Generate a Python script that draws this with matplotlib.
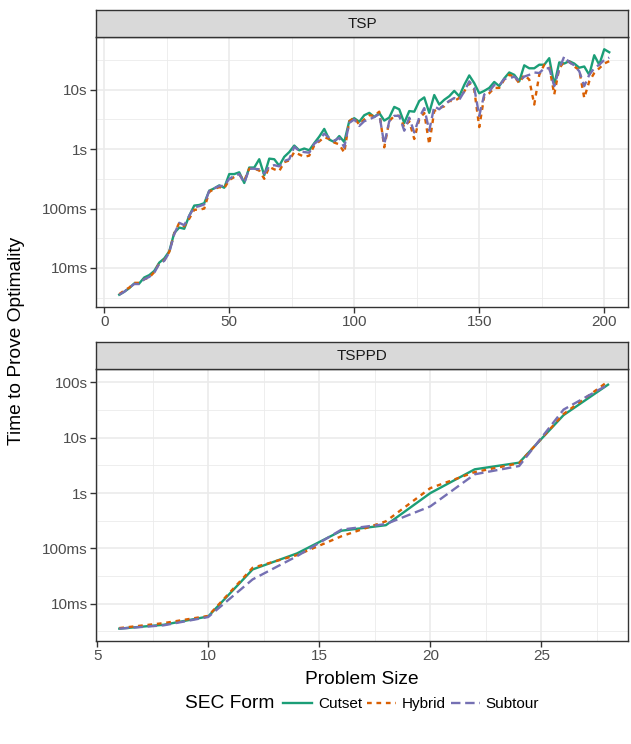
import numpy as np
import matplotlib
matplotlib.use('Agg')
import matplotlib.pyplot as plt
from matplotlib.lines import Line2D
from matplotlib.ticker import FixedLocator, FixedFormatter, NullFormatter

plt.rcParams['font.family'] = ['Liberation Sans', 'DejaVu Sans']

# data: log10 of time in seconds
tsp_size = np.arange(6, 203, 2)
tsp_cutset = [
    -2.45, -2.40, -2.34, -2.26, -2.26, -2.16, -2.12, -2.05, -1.91, -1.84,
    -1.72, -1.41, -1.32, -1.34, -1.12, -0.95, -0.94, -0.91, -0.70, -0.66,
    -0.61, -0.65, -0.42, -0.42, -0.39, -0.57, -0.31, -0.31, -0.17, -0.44,
    -0.16, -0.17, -0.28, -0.13, -0.05, 0.06, -0.02, 0.01, -0.02, 0.10,
    0.21, 0.34, 0.16, 0.12, 0.22, 0.12, 0.47, 0.52, 0.46, 0.57,
    0.61, 0.54, 0.61, 0.48, 0.53, 0.71, 0.67, 0.44, 0.64, 0.63,
    0.81, 0.87, 0.61, 0.91, 0.75, 0.83, 0.89, 0.98, 0.89, 1.08,
    1.24, 1.11, 0.94, 0.98, 1.03, 1.13, 1.06, 1.19, 1.29, 1.25,
    1.14, 1.41, 1.36, 1.36, 1.42, 1.42, 1.53, 1.08, 1.46, 1.44,
    1.48, 1.44, 1.37, 1.39, 1.25, 1.58, 1.42, 1.68, 1.63]
tsp_hybrid = [
    -2.44, -2.38, -2.33, -2.25, -2.25, -2.19, -2.16, -2.07, -1.92, -1.87,
    -1.73, -1.42, -1.24, -1.30, -1.17, -1.02, -1.02, -1.00, -0.72, -0.67,
    -0.64, -0.66, -0.52, -0.47, -0.43, -0.53, -0.33, -0.33, -0.36, -0.50,
    -0.30, -0.34, -0.37, -0.22, -0.19, -0.05, -0.09, -0.13, -0.11, 0.06,
    0.13, 0.20, 0.17, 0.11, 0.08, -0.06, 0.47, 0.53, 0.41, 0.50,
    0.57, 0.56, 0.63, 0.03, 0.47, 0.56, 0.56, 0.37, 0.47, 0.17,
    0.50, 0.61, 0.08, 0.64, 0.69, 0.72, 0.81, 0.81, 0.86, 0.97,
    1.11, 1.00, 0.37, 0.89, 0.94, 1.03, 1.03, 1.17, 1.25, 1.22,
    1.11, 1.25, 1.17, 0.75, 1.25, 1.42, 1.39, 0.92, 1.36, 1.47,
    1.47, 1.39, 1.33, 0.86, 1.14, 1.28, 1.36, 1.44, 1.48]
tsp_subtour = [
    -2.45, -2.40, -2.33, -2.27, -2.27, -2.19, -2.15, -2.08, -1.93, -1.88,
    -1.74, -1.43, -1.24, -1.28, -1.12, -0.98, -0.96, -0.93, -0.70, -0.66,
    -0.62, -0.62, -0.50, -0.45, -0.42, -0.57, -0.33, -0.33, -0.34, -0.41,
    -0.29, -0.27, -0.29, -0.20, -0.17, 0.04, -0.03, -0.05, -0.06, 0.09,
    0.15, 0.26, 0.19, 0.14, 0.19, 0.03, 0.44, 0.50, 0.39, 0.47,
    0.50, 0.54, 0.59, 0.08, 0.47, 0.56, 0.56, 0.31, 0.53, 0.28,
    0.53, 0.69, 0.31, 0.72, 0.67, 0.75, 0.81, 0.86, 0.83, 0.97,
    1.14, 1.03, 0.56, 0.92, 0.97, 1.08, 1.07, 1.18, 1.19, 1.22,
    1.14, 1.22, 1.25, 1.29, 1.28, 1.36, 1.36, 1.06, 1.35, 1.56,
    1.46, 1.41, 1.31, 1.06, 1.25, 1.36, 1.42, 1.50, 1.54]

tsppd_size = [6, 8, 10, 12, 14, 16, 18, 20, 22, 24, 26, 28]
tsppd_cutset = [-2.45, -2.38, -2.23, -1.38, -1.09, -0.68, -0.58, 0.00, 0.43, 0.55, 1.41, 1.96]
tsppd_hybrid = [-2.44, -2.35, -2.22, -1.35, -1.12, -0.78, -0.51, 0.09, 0.38, 0.54, 1.43, 2.02]
tsppd_subtour = [-2.45, -2.39, -2.24, -1.56, -1.14, -0.66, -0.56, -0.24, 0.34, 0.49, 1.51, 1.96]

forms = ['Cutset', 'Hybrid', 'Subtour']
colors = ['#1B9E77', '#D95F02', '#7570B3']
dashes = [None, (2, 2), (4, 2)]

y_breaks = [0.01, 0.1, 1, 10, 100]
y_labels = ['10ms', '100ms', '1s', '10s', '100s']
y_minor = [10 ** -2.5, 10 ** -1.5, 10 ** -0.5, 10 ** 0.5, 10 ** 1.5]

W, H = 631, 744
fig = plt.figure(figsize=(W / 100, H / 100), dpi=100)

def box(l, t, r, b):
    return [l / W, 1 - b / H, (r - l) / W, (b - t) / H]

def panel(ax_rect, strip_rect, title, x, series, x_major, x_minor, xlim):
    ax = fig.add_axes(box(*ax_rect))
    st = fig.add_axes(box(*strip_rect))
    st.set_facecolor('#D9D9D9')
    st.set_xticks([]); st.set_yticks([])
    for s in st.spines.values():
        s.set_color('#333333'); s.set_linewidth(1.0)
    st.text(0.5, 0.5, title, ha='center', va='center', fontsize=11,
            color='#1A1A1A', transform=st.transAxes)

    for vals, c, d in zip(series, colors, dashes):
        ln, = ax.plot(x, 10 ** np.array(vals), color=c, lw=1.7)
        if d:
            ln.set_dashes(d)
    ax.set_yscale('log')
    allv = np.concatenate([np.array(v) for v in series])
    lo, hi = allv.min(), allv.max()
    pad = 0.05 * (hi - lo)
    ax.set_ylim(10 ** (lo - pad), 10 ** (hi + pad))
    ax.set_xlim(*xlim)

    ax.yaxis.set_major_locator(FixedLocator(y_breaks))
    ax.yaxis.set_major_formatter(FixedFormatter(y_labels))
    ax.yaxis.set_minor_locator(FixedLocator(y_minor))
    ax.yaxis.set_minor_formatter(NullFormatter())
    ax.set_xticks(x_major)
    ax.set_xticks(x_minor, minor=True)
    ax.grid(which='major', color='#EBEBEB', lw=1.2)
    ax.grid(which='minor', color='#EBEBEB', lw=0.6)
    ax.set_axisbelow(True)
    ax.tick_params(which='major', length=4, width=1.0, color='#333333',
                   labelsize=11, labelcolor='#4D4D4D', pad=2)
    ax.tick_params(which='minor', length=0)
    for s in ax.spines.values():
        s.set_color('#333333'); s.set_linewidth(1.0)
    return ax

panel((96, 37, 628, 307), (96, 10, 628, 37), 'TSP', tsp_size,
      [tsp_cutset, tsp_hybrid, tsp_subtour],
      [0, 50, 100, 150, 200], [25, 75, 125, 175], (-3.3, 209.5))
panel((96, 369, 628, 641), (96, 342, 628, 369), 'TSPPD', tsppd_size,
      [tsppd_cutset, tsppd_hybrid, tsppd_subtour],
      [5, 10, 15, 20, 25], [7.5, 12.5, 17.5, 22.5, 27.5], (4.95, 28.9))

fig.text(362 / W, 1 - 679 / H, 'Problem Size', ha='center', va='center', fontsize=13.75)
fig.text(17 / W, 1 - 341 / H, 'Time to Prove Optimality', ha='center', va='center',
         rotation=90, fontsize=13.75)

# legend at the bottom, title on the left
fig.text(185 / W, 1 - 704 / H, 'SEC Form', ha='left', va='center', fontsize=13.75)
handles = []
for c, d in zip(colors, dashes):
    h = Line2D([], [], color=c, lw=1.7)
    if d:
        h.set_dashes(d)
    handles.append(h)
fig.legend(handles, forms, loc='center left', bbox_to_anchor=(283 / W, 1 - 704 / H),
           ncol=3, frameon=False, fontsize=11, handlelength=1.9, handletextpad=0.4,
           columnspacing=0.3, borderaxespad=0, borderpad=0)

fig.savefig('out.png', dpi=100, facecolor='white')
